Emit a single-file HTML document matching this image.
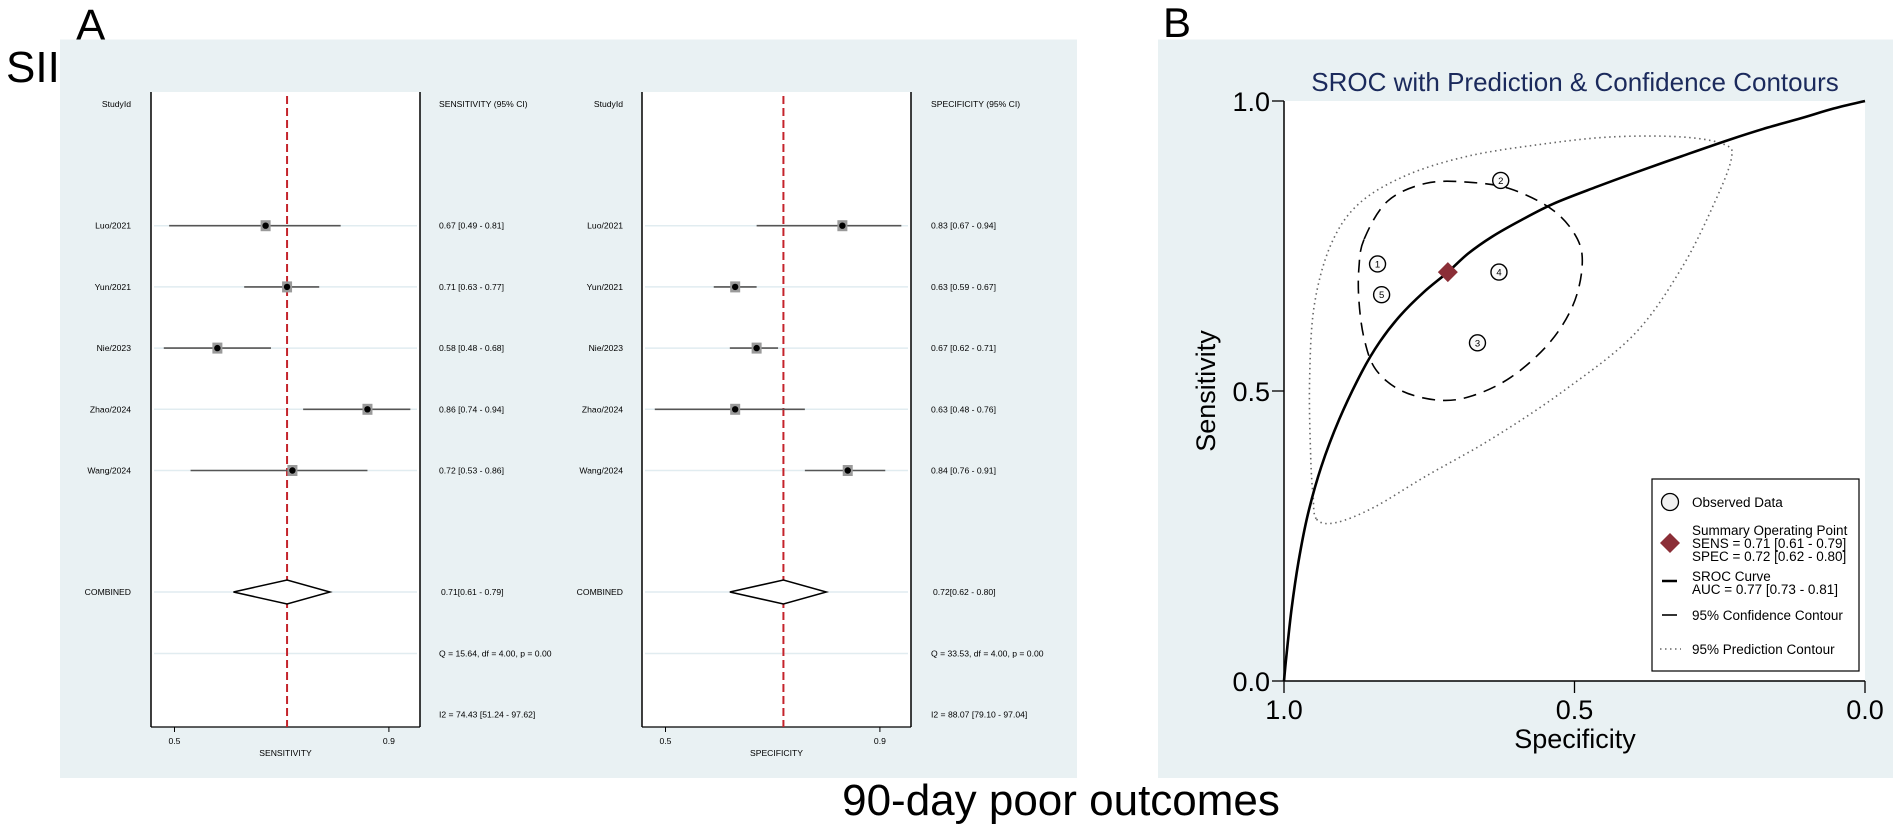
<!DOCTYPE html>
<html><head><meta charset="utf-8"><style>
html,body{margin:0;padding:0;background:#fff;width:1902px;height:827px;overflow:hidden}
svg{display:block;font-family:"Liberation Sans",Arial,sans-serif}
</style></head><body>
<svg id="fig" width="1902" height="827" viewBox="0 0 1902 827" xmlns="http://www.w3.org/2000/svg">
<text x="6" y="82" font-size="44">SII</text>
<text x="76" y="40" font-size="44">A</text>
<text x="1163" y="37" font-size="42">B</text>
<rect x="60" y="39.5" width="1017" height="738.5" fill="#e9f1f3"/>
<rect x="1158" y="39.5" width="735" height="738.5" fill="#e9f1f3"/>
<text x="1061" y="815" font-size="44" text-anchor="middle">90-day poor outcomes</text>
<g id="forest"></g>
<g id="sroc"></g>
</svg>
<script>
// ---------- forest plot data ----------
const studies = ['Luo/2021','Yun/2021','Nie/2023','Zhao/2024','Wang/2024'];
const sensVal = [0.67,0.71,0.58,0.86,0.72];
const sensLo  = [0.49,0.63,0.48,0.74,0.53];
const sensHi  = [0.81,0.77,0.68,0.94,0.86];
const specVal = [0.83,0.63,0.67,0.63,0.84];
const specLo  = [0.67,0.59,0.62,0.48,0.76];
const specHi  = [0.94,0.67,0.71,0.76,0.91];
const sensPooled = [0.71,0.61,0.79];
const specPooled = [0.72,0.62,0.80];
const sensStats = ['Q = 15.64, df = 4.00, p =  0.00','I2 = 74.43 [51.24 - 97.62]'];
const specStats = ['Q = 33.53, df = 4.00, p =  0.00','I2 = 88.07 [79.10 - 97.04]'];
const forestTicks = [0.5,0.9];
// ---------- SROC data (specificity, sensitivity) ----------
const obsSpec = [0.839,0.627,0.667,0.630,0.832];
const obsSens = [0.719,0.863,0.583,0.705,0.666];
const obsLabel = ['1','2','3','4','5'];
const summarySpec = [0.718];
const summarySens = [0.705];
const srocSpec = [1.0,.996,.987,.975,.959,.936,.905,.866,.835,.800,.760,.718,.683,.642,.593,.536,.462,.397,.315,.234,.168,.111,.054,0.0];
const srocSens = [0.0,.042,.124,.206,.287,.369,.451,.533,.585,.630,.670,.705,.737,.766,.794,.823,.852,.876,.905,.933,.954,.970,.987,1.0];
const confSpec = [.862,.822,.756,.683,.609,.536,.495,.487,.503,.544,.609,.675,.732,.797,.842,.862,.871,.871];
const confSens = [.762,.827,.858,.860,.848,.811,.762,.713,.647,.582,.524,.492,.484,.500,.537,.590,.655,.713];
const predSpec = [.944,.911,.846,.756,.642,.519,.397,.315,.258,.230,.242,.315,.438,.560,.683,.789,.871,.919,.948,.956,.954,.950];
const predSens = [.279,.273,.299,.353,.418,.500,.598,.713,.827,.901,.925,.938,.938,.925,.905,.872,.823,.753,.647,.516,.385,.320];
const srocTicks = [0.0,0.5,1.0];
const srocTickLabels = ['0.0','0.5','1.0'];

const NS='http://www.w3.org/2000/svg';
function mk(parent,tag,attrs,text){const e=document.createElementNS(NS,tag);for(const k in attrs)e.setAttribute(k,attrs[k]);if(text!==undefined)e.textContent=text;parent.appendChild(e);return e;}
const fmt=v=>v.toFixed(2);

// ---------- forest ----------
const forest=document.getElementById('forest');
const rowY=i=>225.7+i*61.2;
function drawForest(cfg){
  const g=mk(forest,'g',{});
  
  
  const L=cfg.boxL,R=cfg.boxL+269,top=92,bot=727;
  const x=v=>L+23.5+(v-0.5)*536;
  const box=mk(g,'rect',{x:L,y:top,width:R-L,height:bot-top,fill:'#fff'});
  
  
  for(let i=0;i<cfg.vals.length;i++){mk(g,'line',{x1:L+3,x2:R-3,y1:rowY(i),y2:rowY(i),stroke:'#e1ecf0','stroke-width':1.5});}
  [592,653.5].forEach(yy=>mk(g,'line',{x1:L+3,x2:R-3,y1:yy,y2:yy,stroke:'#e1ecf0','stroke-width':1.5}));
  mk(g,'line',{x1:L,x2:L,y1:top,y2:bot,stroke:'#000','stroke-width':1.5});
  mk(g,'line',{x1:R,x2:R,y1:top,y2:bot,stroke:'#000','stroke-width':1.5});
  mk(g,'line',{x1:L,x2:R,y1:bot,y2:bot,stroke:'#000','stroke-width':1.2});
  forestTicks.forEach(t=>{mk(g,'line',{x1:x(t),x2:x(t),y1:bot,y2:bot+5,stroke:'#000'});
    const tl=mk(g,'text',{x:x(t),y:744,'font-size':8.6,'text-anchor':'middle'},String(t));
    
    });
  const at=mk(g,'text',{x:(L+R)/2,y:756,'font-size':8.6,'text-anchor':'middle'},cfg.axis);
  
  
  const h1=mk(g,'text',{x:cfg.labX,y:107,'font-size':8.6,'text-anchor':'end'},'StudyId');
  
  
  const h2=mk(g,'text',{x:cfg.valX,y:107,'font-size':8.6},cfg.axis+' (95% CI)');
  
  
  const rl=mk(g,'line',{x1:x(cfg.pooled[0]),x2:x(cfg.pooled[0]),y1:96,y2:bot,stroke:'#c4232b','stroke-width':2,'stroke-dasharray':'8,4'});
  
  
  for(let i=0;i<cfg.vals.length;i++){
    const y=rowY(i);
    const lb=mk(g,'text',{x:cfg.labX,y:y+3,'font-size':8.6,'text-anchor':'end'},studies[i]);
    
    
    const ci=mk(g,'line',{x1:x(cfg.lo[i]),x2:x(cfg.hi[i]),y1:y,y2:y,stroke:'#555','stroke-width':1.6});
    
    
    const sq=mk(g,'rect',{x:x(cfg.vals[i])-5,y:y-5.5,width:10,height:11,fill:'#9a9a9a'});
    
    
    const pt=mk(g,'ellipse',{cx:x(cfg.vals[i]),cy:y,rx:3.2,ry:3.2,fill:'#000'});
    
    
    const vt=mk(g,'text',{x:cfg.valX,y:y+3,'font-size':8.6},fmt(cfg.vals[i])+' ['+fmt(cfg.lo[i])+' - '+fmt(cfg.hi[i])+']');
    
    
  }
  const cy=592,p=cfg.pooled;
  const cl=mk(g,'text',{x:cfg.labX,y:cy+3,'font-size':8.6,'text-anchor':'end'},'COMBINED');
  
  
  const dm=mk(g,'polygon',{points:`${x(p[1])},${cy} ${x(p[0])},${cy-12} ${x(p[2])},${cy} ${x(p[0])},${cy+12}`,fill:'#fff',stroke:'#000','stroke-width':1.5});
  
  
  const ct=mk(g,'text',{x:cfg.valX+2,y:cy+3,'font-size':8.6},fmt(p[0])+'['+fmt(p[1])+' - '+fmt(p[2])+']');
  
  
  const q=mk(g,'text',{x:cfg.valX,y:656.5,'font-size':8.6},cfg.stats[0]);
  
  
  const i2=mk(g,'text',{x:cfg.valX,y:717.7,'font-size':8.6},cfg.stats[1]);
  
  
}
drawForest({name:'sensitivity-forest',boxL:151,labX:131,valX:439,axis:'SENSITIVITY',vals:sensVal,lo:sensLo,hi:sensHi,pooled:sensPooled,stats:sensStats});
drawForest({name:'specificity-forest',boxL:642,labX:623,valX:931,axis:'SPECIFICITY',vals:specVal,lo:specLo,hi:specHi,pooled:specPooled,stats:specStats});

// ---------- SROC ----------
const sroc=document.getElementById('sroc');
const PL=1284,PR=1865,PT=101,PB=681;
const sx=s=>PR-s*(PR-PL);
const sy=v=>PB-v*(PB-PT);
const pa=mk(sroc,'rect',{x:PL,y:PT,width:PR-PL,height:PB-PT,fill:'#fff'});


const ttl=mk(sroc,'text',{x:1575,y:91,'font-size':26,'text-anchor':'middle',fill:'#1b2a5c'},'SROC with Prediction & Confidence Contours');


mk(sroc,'line',{x1:PL,x2:PL,y1:PT,y2:PB,stroke:'#000','stroke-width':1.5});
mk(sroc,'line',{x1:PL,x2:PR,y1:PB,y2:PB,stroke:'#000','stroke-width':1.5});
srocTicks.forEach((t,i)=>{
  mk(sroc,'line',{x1:PL-12,x2:PL,y1:sy(t),y2:sy(t),stroke:'#000','stroke-width':1.3});
  const yl=mk(sroc,'text',{x:PL-14,y:sy(t)+10,'font-size':27,'text-anchor':'end'},srocTickLabels[i]);
  
  
  mk(sroc,'line',{x1:sx(t),x2:sx(t),y1:PB,y2:PB+12,stroke:'#000','stroke-width':1.3});
  const xl=mk(sroc,'text',{x:sx(t),y:719,'font-size':27,'text-anchor':'middle'},srocTickLabels[i]);
  
  
});
const xt=mk(sroc,'text',{x:1575,y:748,'font-size':27,'text-anchor':'middle'},'Specificity');


const yt=mk(sroc,'text',{x:1215,y:391,'font-size':27,'text-anchor':'middle',transform:'rotate(-90 1215 391)'},'Sensitivity');



function smooth(xs,ys,closed){
  const P=xs.map((v,i)=>[sx(v),sy(ys[i])]);const n=P.length;
  const get=i=>closed?P[(i+n)%n]:P[Math.max(0,Math.min(n-1,i))];
  let d=`M${P[0][0]},${P[0][1]}`;const m=closed?n:n-1;
  for(let i=0;i<m;i++){const p0=get(i-1),p1=get(i),p2=get(i+1),p3=get(i+2);
    d+=` C${p1[0]+(p2[0]-p0[0])/6},${p1[1]+(p2[1]-p0[1])/6} ${p2[0]-(p3[0]-p1[0])/6},${p2[1]-(p3[1]-p1[1])/6} ${p2[0]},${p2[1]}`;}
  return d+(closed?'Z':'');
}
const pred=mk(sroc,'path',{d:smooth(predSpec,predSens,true),fill:'none',stroke:'#666','stroke-width':1.6,'stroke-dasharray':'1.5,3.5'});


const conf=mk(sroc,'path',{d:smooth(confSpec,confSens,true),fill:'none',stroke:'#000','stroke-width':1.6,'stroke-dasharray':'13,8'});


const curve=mk(sroc,'path',{d:smooth(srocSpec,srocSens,false),fill:'none',stroke:'#000','stroke-width':2.6});


for(let i=0;i<obsSpec.length;i++){
  const c=mk(sroc,'circle',{cx:sx(obsSpec[i]),cy:sy(obsSens[i]),r:8,fill:'#fafafa',stroke:'#000','stroke-width':1.4});
  
  
  mk(sroc,'text',{x:sx(obsSpec[i]),y:sy(obsSens[i])+3.5,'font-size':9.5,'text-anchor':'middle'},obsLabel[i]);
}
const dx=sx(summarySpec[0]),dy=sy(summarySens[0]);
const sp=mk(sroc,'polygon',{points:`${dx-10},${dy} ${dx},${dy-10} ${dx+10},${dy} ${dx},${dy+10}`,fill:'#8b2e37'});



const lg=mk(sroc,'g',{});


mk(lg,'rect',{x:1652,y:479,width:207,height:192,fill:'#fff',stroke:'#000','stroke-width':1.2});
mk(lg,'circle',{cx:1670,cy:502,r:8.5,fill:'#f0f0f0',stroke:'#000','stroke-width':1.3});
const LT=[['Observed Data',507],['Summary Operating Point',535],['SENS = 0.71 [0.61 - 0.79]',548],['SPEC = 0.72 [0.62 - 0.80]',561],['SROC Curve',581],['AUC = 0.77 [0.73 - 0.81]',594],['95% Confidence Contour',620],['95% Prediction Contour',654]];
LT.forEach(t=>{const e=mk(lg,'text',{x:1692,y:t[1],'font-size':13.5},t[0]);
  
  });
mk(lg,'polygon',{points:'1660,543 1670,533 1680,543 1670,553',fill:'#8b2e37'});
mk(lg,'line',{x1:1662,x2:1677,y1:581,y2:581,stroke:'#000','stroke-width':2.5});
mk(lg,'line',{x1:1662,x2:1677,y1:615,y2:615,stroke:'#000','stroke-width':1.6});
mk(lg,'line',{x1:1660,x2:1681,y1:649,y2:649,stroke:'#666','stroke-width':1.6,'stroke-dasharray':'1.5,3.5'});
</script>
</body></html>
